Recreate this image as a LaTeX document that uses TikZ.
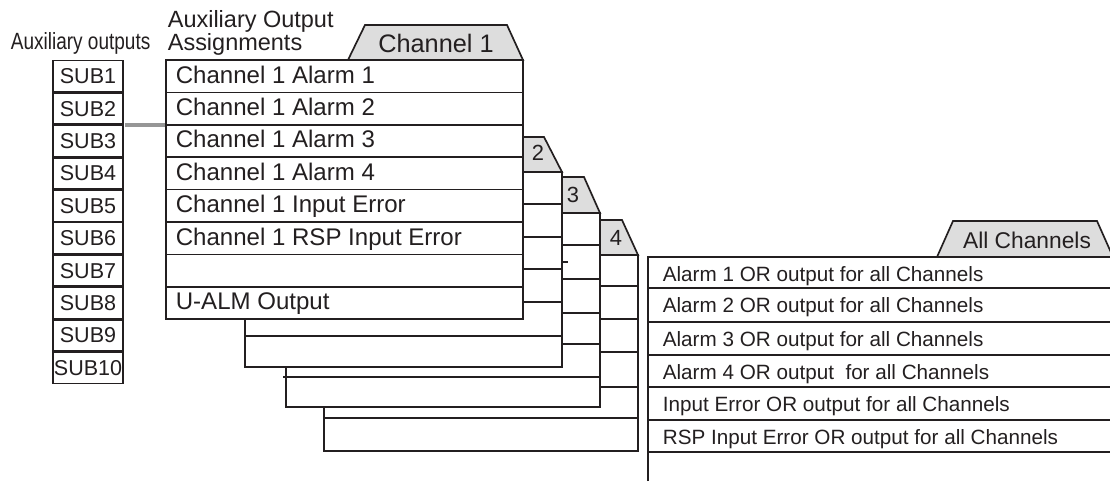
\documentclass[tikz,border=0pt]{standalone}
\usepackage{fontspec}
\setmainfont{Liberation Sans}
\newfontfamily\narrowsans[FakeStretch=0.81]{Liberation Sans}
\usepackage{tikz}
\usetikzlibrary{positioning}
\definecolor{InkBlack}{RGB}{35,31,32}
\definecolor{TabGrey}{RGB}{221,221,221}
\definecolor{LinkGrey}{RGB}{150,150,150}

\begin{document}
\begin{tikzpicture}[x=0.025cm,y=-0.025cm,line width=1.2pt,color=InkBlack,
  subbox/.style={draw,fill=white,minimum width=1.75cm,minimum height=0.785cm,
                 inner sep=0pt,font=\fontsize{15.3}{18}\selectfont},
  headtxt/.style={anchor=base west,inner sep=0pt,font=\fontsize{16.7}{20}\selectfont},
  rowtxt/.style={anchor=base west,inner sep=0pt,font=\fontsize{17.1}{20}\selectfont},
  alltxt/.style={anchor=base west,inner sep=0pt,font=\fontsize{14.7}{17}\selectfont},
  tabtxt/.style={inner sep=0pt,font=\fontsize{18}{21}\selectfont},
  numtxt/.style={inner sep=0pt,font=\fontsize{15.6}{18}\selectfont},
  tabshape/.style={draw,fill=TabGrey},
  panel/.style={draw,fill=white},
  link/.style={draw=LinkGrey,line width=3.4pt},
]
\useasboundingbox (0,0) rectangle (1110,481);

\node[headtxt,font=\narrowsans\fontsize{16.7}{20}\selectfont] (auxlbl) at (10,49) {Auxiliary outputs};
\node[headtxt] (asglbl) at (167,27) {Auxiliary Output};
\node[headtxt] (asglblb) at (167,50) {Assignments};

\node[subbox] (sub1) at (88,76.2) {SUB1};
\node[subbox] (sub2) at (88,108.6) {SUB2};
\node[subbox] (sub3) at (88,141) {SUB3};
\node[subbox] (sub4) at (88,173.4) {SUB4};
\node[subbox] (sub5) at (88,205.8) {SUB5};
\node[subbox] (sub6) at (88,238.2) {SUB6};
\node[subbox] (sub7) at (88,270.6) {SUB7};
\node[subbox] (sub8) at (88,303) {SUB8};
\node[subbox] (sub9) at (88,335.4) {SUB9};
\node[subbox] (sub10) at (88,367.8) {SUB10};

\coordinate (ch1w) at (166,125);
\draw[link,shorten <=0.6pt] (sub2.south east |- ch1w) -- (ch1w);

\draw[tabshape] (463,255) -- (480,220) -- (622,220) -- (638,255) -- cycle;
\draw[panel] (324,255) rectangle (638,451);
\draw (324,286) -- (638,286);
\draw (324,319) -- (638,319);
\draw (324,352) -- (638,352);
\draw (324,387) -- (638,387);
\draw (324,418) -- (638,418);
\node[numtxt] (num4) at (616,238) {4};

\draw[tabshape] (425,213) -- (442,177) -- (584,177) -- (600,213) -- cycle;
\draw[panel] (286,213) rectangle (600,407);
\draw (286,245) -- (600,245);
\draw (286,279) -- (600,279);
\draw (286,313) -- (600,313);
\draw (286,344) -- (600,344);
\draw (283,377) -- (600,377);
\draw (562,262) -- (568,262);
\node[numtxt] (num3) at (573,195) {3};

\draw[tabshape] (387,172) -- (404,137) -- (544,137) -- (562,172) -- cycle;
\draw[panel] (245,172) rectangle (562,367);
\draw (245,204) -- (562,204);
\draw (245,237) -- (562,237);
\draw (245,269) -- (562,269);
\draw (245,302) -- (562,302);
\draw (245,336) -- (562,336);
\node[numtxt] (num2) at (538,153) {2};

\draw[tabshape] (348,60) -- (365,25) -- (507,25) -- (523,60) -- cycle;
\node[tabtxt] (ch1tab) at (436,43) {Channel 1};
\draw[panel] (166,60) rectangle (523,319);
\draw (166,92.4) -- (523,92.4);
\draw (166,124.8) -- (523,124.8);
\draw (166,157.2) -- (523,157.2);
\draw (166,189.6) -- (523,189.6);
\draw (166,222) -- (523,222);
\draw (166,254.4) -- (523,254.4);
\draw (166,286.8) -- (523,286.8);
\node[rowtxt] (c1a1) at (175,83) {Channel 1 Alarm 1};
\node[rowtxt] (c1a2) at (175,115.4) {Channel 1 Alarm 2};
\node[rowtxt] (c1a3) at (175,147.8) {Channel 1 Alarm 3};
\node[rowtxt] (c1a4) at (175,180.2) {Channel 1 Alarm 4};
\node[rowtxt] (c1ie) at (175,212.6) {Channel 1 Input Error};
\node[rowtxt] (c1rsp) at (175,245) {Channel 1 RSP Input Error};
\node[rowtxt] (c1ualm) at (175,309.8) {U-ALM Output};

\draw[tabshape] (937,257) -- (953,221) -- (1097,221) -- (1113,257) -- cycle;
\node[tabtxt,font=\fontsize{16.2}{19}\selectfont] (alltab) at (1027,240) {All Channels};
\draw (648,481) -- (648,257) -- (1110,257);
\draw (648,288) -- (1110,288);
\draw (648,322) -- (1110,322);
\draw (648,355) -- (1110,355);
\draw (648,387) -- (1110,387);
\draw (648,420) -- (1110,420);
\draw (648,452) -- (1110,452);
\node[alltxt] (alla1) at (662,281) {Alarm 1 OR output for all Channels};
\node[alltxt] (alla2) at (662,312) {Alarm 2 OR output for all Channels};
\node[alltxt] (alla3) at (662,346) {Alarm 3 OR output for all Channels};
\node[alltxt] (alla4) at (662,379) {Alarm 4 OR output\ \ for all Channels};
\node[alltxt] (allie) at (662,411) {Input Error OR output for all Channels};
\node[alltxt] (allrsp) at (662,444) {RSP Input Error OR output for all Channels};
\end{tikzpicture}
\end{document}
